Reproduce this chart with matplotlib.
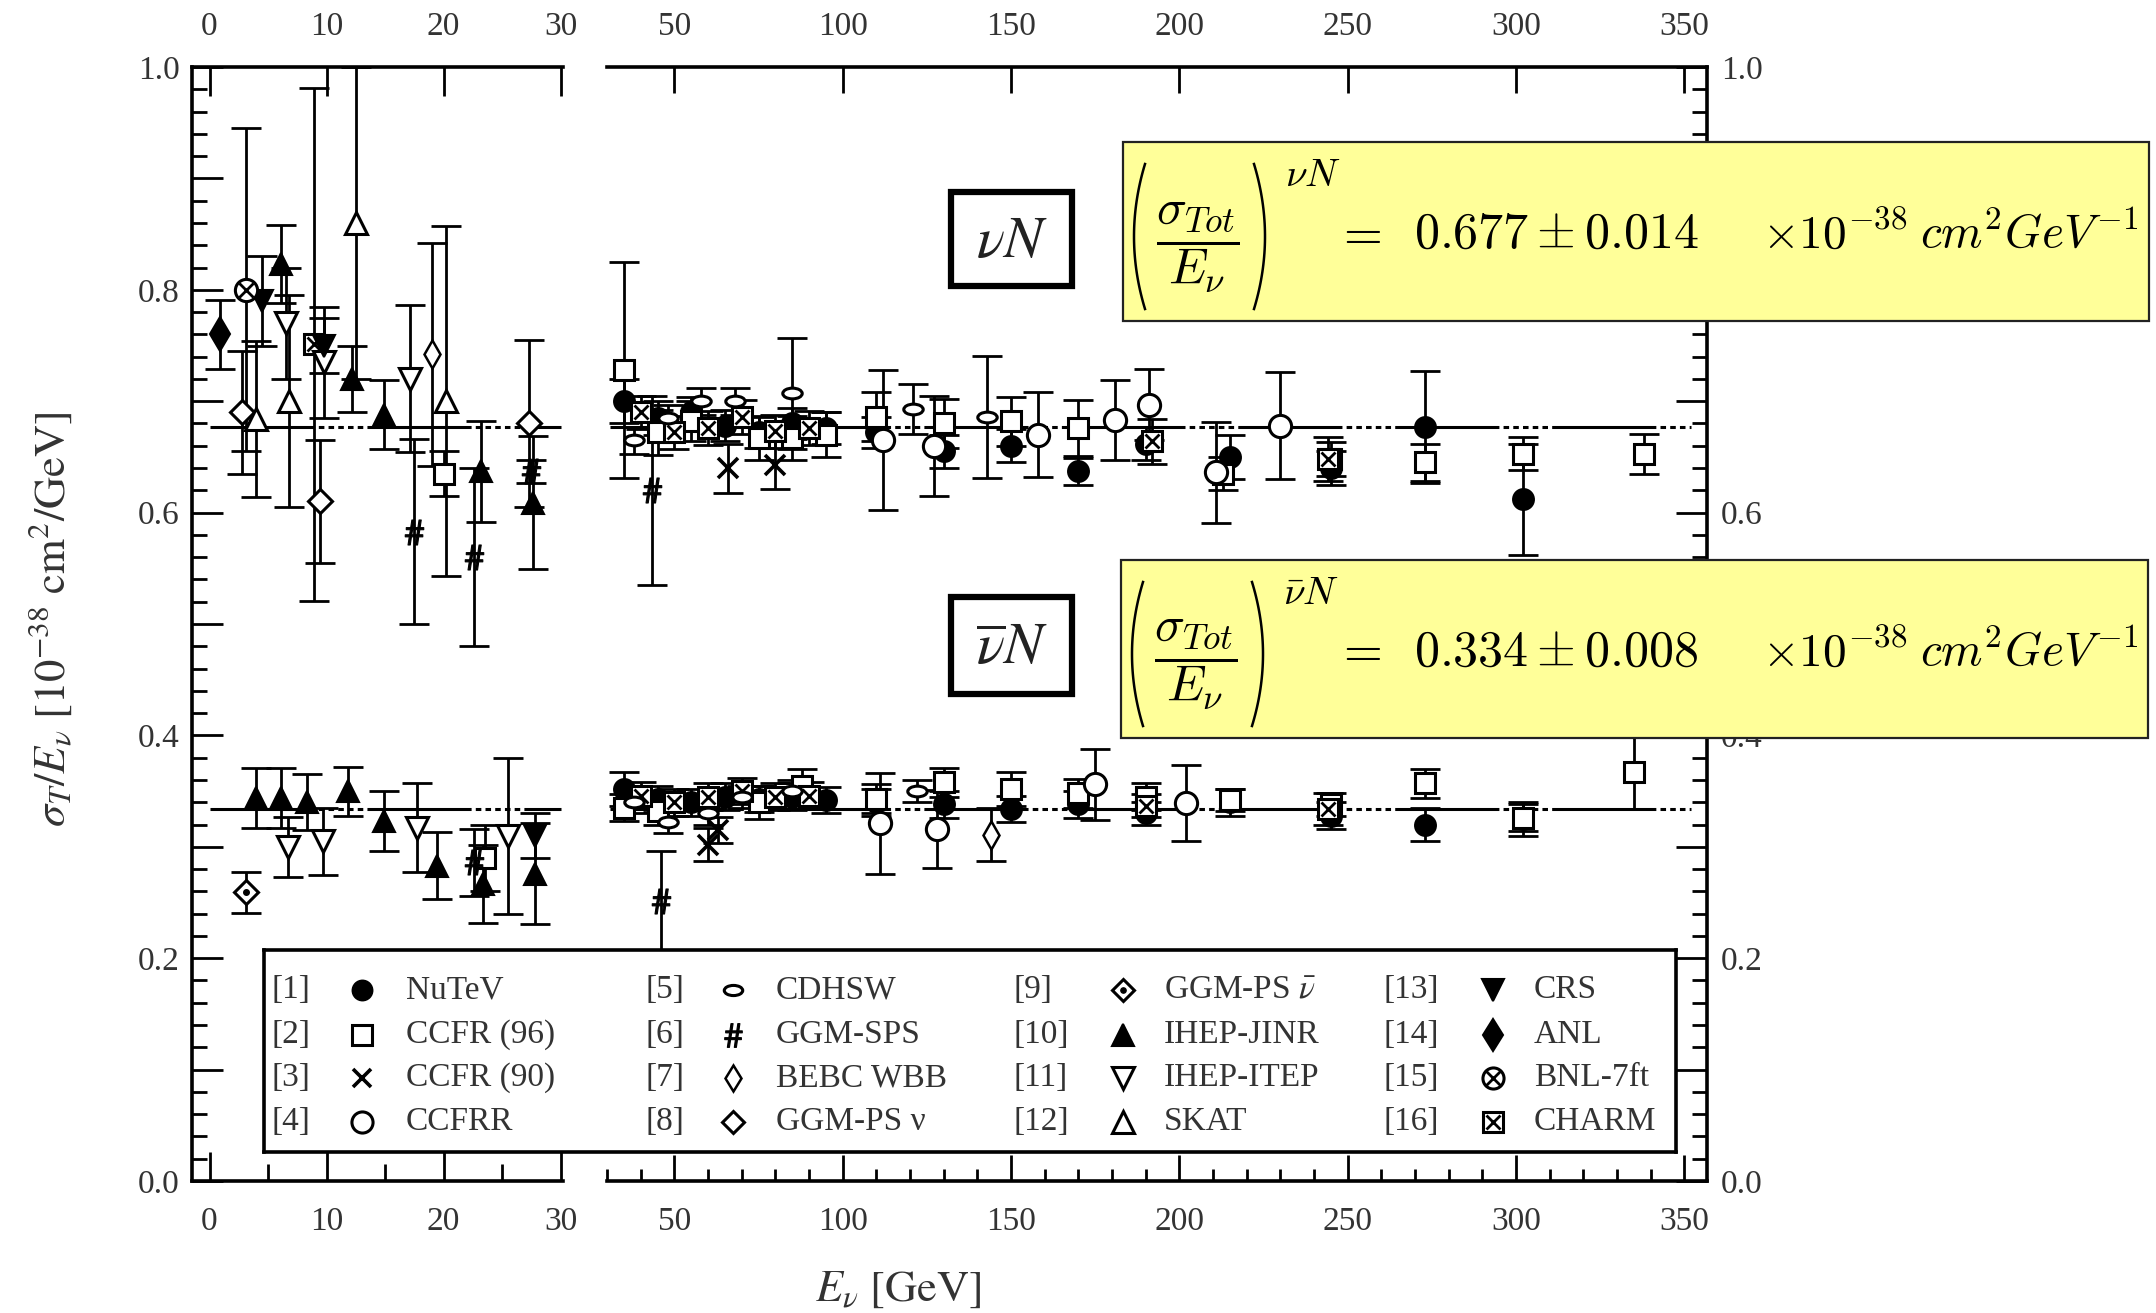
import numpy as np
import matplotlib
matplotlib.use("Agg")
import matplotlib.pyplot as plt
from matplotlib.patches import Rectangle
from matplotlib.lines import Line2D
from matplotlib.path import Path
from matplotlib.ticker import MultipleLocator, FuncFormatter

plt.rcParams["font.family"] = ["Liberation Serif", "DejaVu Serif"]
plt.rcParams["mathtext.fontset"] = "stix"
plt.rcParams["lines.scale_dashes"] = False

# fitted averages (10^-38 cm^2/GeV)
nu_fit, nu_fit_err = 0.677, 0.014
nubar_fit, nubar_fit_err = 0.334, 0.008

# ---- data: energy [GeV], sigma/E, error ----
# [1] NuTeV
nutev_x = [35, 45, 55, 65, 75, 85, 95, 110, 130, 150, 170, 190, 215, 245, 273, 302]
nutev_nu = [0.700, 0.685, 0.690, 0.678, 0.672, 0.680, 0.676, 0.672, 0.655, 0.660,
            0.637, 0.662, 0.650, 0.640, 0.677, 0.612]
nutev_nu_err = [0.020, 0.015, 0.014, 0.014, 0.014, 0.014, 0.014, 0.014, 0.015, 0.015,
                0.012, 0.015, 0.020, 0.015, 0.050, 0.050]
nutev_nubar = [0.352, 0.343, 0.340, 0.345, 0.343, 0.345, 0.342, 0.340, 0.338, 0.334,
               0.338, 0.330, 0.340, 0.328, 0.320, 0.325]
nutev_nubar_err = [0.015, 0.012, 0.012, 0.012, 0.012, 0.012, 0.012, 0.012, 0.012, 0.012,
                   0.012, 0.010, 0.012, 0.012, 0.015, 0.015]

# [2] CCFR (96)
ccfr96_nu_x = [20, 35, 45, 55, 75, 85, 95, 110, 130, 150, 170, 213, 245, 273, 302, 338]
ccfr96_nu = [0.635, 0.728, 0.672, 0.682, 0.667, 0.667, 0.670, 0.686, 0.680, 0.682,
             0.676, 0.635, 0.648, 0.645, 0.653, 0.653]
ccfr96_nu_err = [0.020, 0.097, 0.020, 0.018, 0.020, 0.020, 0.020, 0.022, 0.022, 0.022,
                 0.025, 0.015, 0.015, 0.017, 0.015, 0.018]
ccfr96_nubar_x = [23.5, 35, 45, 75, 88, 110, 130, 150, 170, 190, 215, 245, 273, 302, 335]
ccfr96_nubar = [0.290, 0.335, 0.332, 0.340, 0.355, 0.343, 0.358, 0.352, 0.348, 0.345,
                0.342, 0.338, 0.357, 0.326, 0.367]
ccfr96_nubar_err = [0.030, 0.012, 0.012, 0.015, 0.015, 0.013, 0.013, 0.015, 0.013, 0.012,
                    0.010, 0.010, 0.013, 0.012, 0.033]

# [3] CCFR (90)
ccfr90_nu_x = [66, 80]
ccfr90_nu = [0.640, 0.643]
ccfr90_nu_err = [0.022, 0.022]
ccfr90_nubar_x = [60, 63]
ccfr90_nubar = [0.302, 0.315]
ccfr90_nubar_err = [0.015, 0.012]

# [4] CCFRR
ccfrr_nu_x = [112, 127, 158, 181, 191, 211, 230]
ccfrr_nu = [0.665, 0.660, 0.670, 0.683, 0.697, 0.636, 0.678]
ccfrr_nu_err = [0.063, 0.045, 0.038, 0.036, 0.032, 0.045, 0.048]
ccfrr_nubar_x = [111, 128, 175, 202]
ccfrr_nubar = [0.321, 0.316, 0.356, 0.339]
ccfrr_nubar_err = [0.045, 0.035, 0.032, 0.034]

# [5] CDHSW
cdhsw_nu_x = [38, 48, 58, 68, 85, 121, 143]
cdhsw_nu = [0.665, 0.685, 0.700, 0.700, 0.707, 0.693, 0.686]
cdhsw_nu_err = [0.012, 0.012, 0.012, 0.012, 0.050, 0.022, 0.055]
cdhsw_nubar_x = [38, 48, 60, 70, 85, 122]
cdhsw_nubar = [0.340, 0.322, 0.330, 0.345, 0.350, 0.350]
cdhsw_nubar_err = [0.010, 0.010, 0.010, 0.010, 0.010, 0.010]

# [6] GGM-SPS
ggmsps_nu_x = [17.5, 22.6, 27.5, 43.5]
ggmsps_nu = [0.583, 0.560, 0.637, 0.620]
ggmsps_nu_err = [0.083, 0.080, 0.010, 0.085]
ggmsps_nubar_x = [22.6, 46]
ggmsps_nubar = [0.286, 0.251]
ggmsps_nubar_err = [0.030, 0.045]

# [7] BEBC WBB
bebc_nu_x = [19.0]
bebc_nu = [0.742]
bebc_nu_err = [0.100]
bebc_nubar_x = [144]
bebc_nubar = [0.311]
bebc_nubar_err = [0.024]

# [8] GGM-PS nu
ggmps_nu_x = [2.8, 9.4, 27.3]
ggmps_nu = [0.690, 0.610, 0.680]
ggmps_nu_err = [0.055, 0.055, 0.075]

# [9] GGM-PS nubar
ggmps_nubar_x = [3.1]
ggmps_nubar = [0.259]
ggmps_nubar_err = [0.018]

# [10] IHEP-JINR
jinr_nu_x = [6.1, 12.2, 14.9, 23.2, 27.6]
jinr_nu = [0.823, 0.720, 0.688, 0.637, 0.609]
jinr_nu_err = [0.035, 0.030, 0.031, 0.045, 0.060]
jinr_nubar_x = [4.0, 6.1, 8.3, 11.8, 14.9, 19.4, 23.4, 27.8]
jinr_nubar = [0.344, 0.344, 0.340, 0.350, 0.323, 0.283, 0.267, 0.276]
jinr_nubar_err = [0.027, 0.027, 0.025, 0.022, 0.027, 0.030, 0.035, 0.045]

# [11] IHEP-ITEP
itep_nu_x = [6.5, 9.8, 17.1]
itep_nu = [0.770, 0.735, 0.720]
itep_nu_err = [0.050, 0.050, 0.066]
itep_nubar_x = [6.7, 9.7, 17.7, 25.5]
itep_nubar = [0.300, 0.305, 0.317, 0.310]
itep_nubar_err = [0.027, 0.030, 0.040, 0.070]

# [12] SKAT
skat_nu_x = [4.0, 6.8, 12.5, 20.2]
skat_nu = [0.684, 0.700, 0.860, 0.700]
skat_nu_err = [0.070, 0.095, 0.140, 0.157]

# [13] CRS
crs_nu_x = [4.5, 9.8]
crs_nu = [0.790, 0.750]
crs_nu_err = [0.040, 0.025]
crs_nubar_x = [27.8]
crs_nubar = [0.310]
crs_nubar_err = [0.020]

# [14] ANL
anl_nu_x = [0.85]
anl_nu = [0.760]
anl_nu_err = [0.031]

# [15] BNL-7ft
bnl_nu_x = [3.1]
bnl_nu = [0.800]
bnl_nu_err = [0.145]

# [16] CHARM
charm_nu_x = [8.9, 40, 50, 60, 70, 80, 90, 192, 244]
charm_nu = [0.751, 0.690, 0.672, 0.676, 0.686, 0.673, 0.676, 0.664, 0.648]
charm_nu_err = [0.230, 0.015, 0.015, 0.015, 0.015, 0.015, 0.015, 0.020, 0.020]
charm_nubar_x = [40, 50, 60, 70, 80, 90, 190, 244]
charm_nubar = [0.346, 0.340, 0.345, 0.350, 0.345, 0.346, 0.337, 0.334]
charm_nubar_err = [0.012, 0.012, 0.012, 0.012, 0.012, 0.012, 0.010, 0.014]

legend_refs = ["[1]", "[2]", "[3]", "[4]", "[5]", "[6]", "[7]", "[8]",
               "[9]", "[10]", "[11]", "[12]", "[13]", "[14]", "[15]", "[16]"]
legend_names = ["NuTeV", "CCFR (96)", "CCFR (90)", "CCFRR",
                "CDHSW", "GGM-SPS", "BEBC WBB", "GGM-PS ν",
                r"GGM-PS $\bar{\nu}$", "IHEP-JINR", "IHEP-ITEP", "SKAT",
                "CRS", "ANL", "BNL-7ft", "CHARM"]

# ---- marker styles ----
circ = Path.unit_circle()
ellipse = Path(circ.vertices * np.array([1.0, 0.55]), circ.codes)
K = "black"
OPEN = dict(mfc="white", mec=K, mew=2.2)
FILL = dict(mfc=K, mec=K, mew=1.5)

styles = [
    [dict(marker="o", ms=15, **FILL)],
    [dict(marker="s", ms=15, **OPEN)],
    [dict(marker="x", ms=14, mec=K, mew=2.6)],
    [dict(marker="o", ms=16, **OPEN)],
    [dict(marker=ellipse, ms=14, **OPEN)],
    [dict(marker=r"$\#$", ms=18, mec=K, mfc=K, mew=0.8)],
    [dict(marker="d", ms=14, mfc="white", mec=K, mew=1.8)],
    [dict(marker="D", ms=12, **OPEN)],
    [dict(marker="D", ms=12, **OPEN), dict(marker="o", ms=4, mfc=K, mec=K)],
    [dict(marker="^", ms=16, **FILL)],
    [dict(marker="v", ms=16, **OPEN)],
    [dict(marker="^", ms=16, **OPEN)],
    [dict(marker="v", ms=16, **FILL)],
    [dict(marker="d", ms=17, **FILL)],
    [dict(marker="o", ms=16, **OPEN), dict(marker="x", ms=10, mec=K, mew=2.0)],
    [dict(marker="s", ms=15, **OPEN), dict(marker="x", ms=10, mec=K, mew=2.0)],
]

W, H = 2156, 1313
fig = plt.figure(figsize=(W / 100, H / 100), dpi=100)


def fx(px):
    return px / W


def fy(py):
    return 1 - py / H


ax_l = fig.add_axes([fx(192), fy(1181), (563 - 192) / W, (1181 - 67) / H])
ax_r = fig.add_axes([fx(607), fy(1181), (1707 - 607) / W, (1181 - 67) / H])


def draw(x, y, err, style):
    x, y, err = np.asarray(x, float), np.asarray(y), np.asarray(err)
    for ax, sel in ((ax_l, x <= 30.5), (ax_r, x > 30.5)):
        if not sel.any():
            continue
        ax.errorbar(x[sel], y[sel], yerr=err[sel], fmt="none", ecolor=K,
                    elinewidth=2.0, capsize=11, capthick=2.0, zorder=3)
        for m in style:
            ax.plot(x[sel], y[sel], linestyle="none", zorder=4, **m)


# fit lines
fit_ls = (0, (75, 3, 4, 3, 4, 3, 4, 3, 4, 3, 4, 3))
for val in (nu_fit, nubar_fit):
    ax_l.plot([0, 30], [val, val], color=K, lw=2.2, ls=fit_ls, zorder=2)
    ax_r.plot([31, 352], [val, val], color=K, lw=2.2, ls=fit_ls, zorder=2)

draw(nutev_x, nutev_nu, nutev_nu_err, styles[0])
draw(nutev_x, nutev_nubar, nutev_nubar_err, styles[0])
draw(ccfr96_nu_x, ccfr96_nu, ccfr96_nu_err, styles[1])
draw(ccfr96_nubar_x, ccfr96_nubar, ccfr96_nubar_err, styles[1])
draw(ccfr90_nu_x, ccfr90_nu, ccfr90_nu_err, styles[2])
draw(ccfr90_nubar_x, ccfr90_nubar, ccfr90_nubar_err, styles[2])
draw(charm_nu_x, charm_nu, charm_nu_err, styles[15])
draw(charm_nubar_x, charm_nubar, charm_nubar_err, styles[15])
draw(ccfrr_nu_x, ccfrr_nu, ccfrr_nu_err, styles[3])
draw(ccfrr_nubar_x, ccfrr_nubar, ccfrr_nubar_err, styles[3])
draw(cdhsw_nu_x, cdhsw_nu, cdhsw_nu_err, styles[4])
draw(cdhsw_nubar_x, cdhsw_nubar, cdhsw_nubar_err, styles[4])
draw(ggmsps_nu_x, ggmsps_nu, ggmsps_nu_err, styles[5])
draw(ggmsps_nubar_x, ggmsps_nubar, ggmsps_nubar_err, styles[5])
draw(bebc_nu_x, bebc_nu, bebc_nu_err, styles[6])
draw(bebc_nubar_x, bebc_nubar, bebc_nubar_err, styles[6])
draw(ggmps_nu_x, ggmps_nu, ggmps_nu_err, styles[7])
draw(ggmps_nubar_x, ggmps_nubar, ggmps_nubar_err, styles[8])
draw(jinr_nu_x, jinr_nu, jinr_nu_err, styles[9])
draw(jinr_nubar_x, jinr_nubar, jinr_nubar_err, styles[9])
draw(itep_nu_x, itep_nu, itep_nu_err, styles[10])
draw(itep_nubar_x, itep_nubar, itep_nubar_err, styles[10])
draw(skat_nu_x, skat_nu, skat_nu_err, styles[11])
draw(crs_nu_x, crs_nu, crs_nu_err, styles[12])
draw(crs_nubar_x, crs_nubar, crs_nubar_err, styles[12])
draw(anl_nu_x, anl_nu, anl_nu_err, styles[13])
draw(bnl_nu_x, bnl_nu, bnl_nu_err, styles[14])

# ---- axes cosmetics ----
def fmt_y(v, pos):
    return f"{v:.1f}" if abs(round(v / 0.2) * 0.2 - v) < 1e-6 else ""


TXT = "#333333"
ax_l.set_xlim(-1.5, 30.2)
ax_r.set_xlim(30, 356.7)
for ax in (ax_l, ax_r):
    ax.set_ylim(0, 1.0)
    ax.yaxis.set_major_locator(MultipleLocator(0.1))
    ax.yaxis.set_minor_locator(MultipleLocator(0.02))
    ax.yaxis.set_major_formatter(FuncFormatter(fmt_y))
    for s in ax.spines.values():
        s.set_linewidth(2.6)
    ax.tick_params(which="both", direction="in", width=2.0, labelcolor=TXT,
                   labelsize=24)
    ax.tick_params(axis="x", top=True, bottom=True, labeltop=True,
                   labelbottom=True, pad=18)

ax_l.spines["right"].set_visible(False)
ax_r.spines["left"].set_visible(False)

ax_l.xaxis.set_major_locator(MultipleLocator(10))
ax_l.xaxis.set_minor_locator(MultipleLocator(5))
ax_l.tick_params(axis="x", which="major", length=21)
ax_l.tick_params(axis="x", which="minor", length=12)
ax_l.tick_params(axis="y", left=True, right=False, pad=9)
ax_l.tick_params(axis="y", which="major", length=22)
ax_l.tick_params(axis="y", which="minor", length=11)

ax_r.xaxis.set_major_locator(MultipleLocator(50))
ax_r.xaxis.set_minor_locator(MultipleLocator(10))
ax_r.tick_params(axis="x", which="major", length=19)
ax_r.tick_params(axis="x", which="minor", length=9)
ax_r.tick_params(axis="y", which="both", left=False, right=True,
                 labelleft=False, labelright=True, pad=10)
ax_r.tick_params(axis="y", which="major", length=22)
ax_r.tick_params(axis="y", which="minor", length=11)

fig.text(fx(50), fy(619), r"$\sigma_T/E_\nu\ [10^{-38}\ \mathrm{cm}^2/\mathrm{GeV}]$",
         rotation=90, ha="center", va="center", fontsize=32, color=TXT)
fig.text(fx(898), fy(1290), r"$E_\nu\ [\mathrm{GeV}]$", ha="center", va="center",
         fontsize=32, color=TXT)

# ---- legend ----
LX0, LX1, LY0, LY1 = 264, 1676, 950, 1152
ax_leg = fig.add_axes([fx(LX0), fy(LY1), (LX1 - LX0) / W, (LY1 - LY0) / H], zorder=5)
ax_leg.set_xlim(LX0, LX1)
ax_leg.set_ylim(LY1, LY0)
ax_leg.set_xticks([])
ax_leg.set_yticks([])
for s in ax_leg.spines.values():
    s.set_linewidth(2.6)
col_ref = [272, 646, 1014, 1383]
col_mark = [362, 733, 1123, 1493]
col_name = [406, 776, 1164, 1534]
row_y = [990, 1035, 1078, 1122]
for i in range(16):
    c, r = i // 4, i % 4
    ax_leg.text(col_ref[c], row_y[r], legend_refs[i], ha="left", va="center",
                fontsize=24, color=TXT)
    for m in styles[i]:
        mm = dict(m)
        mm["ms"] = m["ms"] * 0.95
        ax_leg.plot([col_mark[c]], [row_y[r]], linestyle="none", **mm)
    ax_leg.text(col_name[c], row_y[r], legend_names[i], ha="left", va="center",
                fontsize=24, color=TXT)

# ---- labelled boxes ----
def label_box(x0, y0, x1, y1, text):
    fig.add_artist(Rectangle((fx(x0), fy(y1)), (x1 - x0) / W, (y1 - y0) / H,
                             transform=fig.transFigure, fc="white", ec=K, lw=4.5,
                             zorder=6))
    fig.text(fx((x0 + x1) / 2), fy((y0 + y1) / 2 + 4), text, ha="center", va="center",
             fontsize=42, zorder=7, color="#222222")


label_box(951, 192, 1072, 286, r"$\nu N$")
label_box(951, 597, 1072, 694, r"$\overline{\nu} N$")


def paren(x_mid, y_top, y_bot, side):
    # thin curved bracket, side=-1 for "(" and +1 for ")"
    t = np.linspace(-1, 1, 40)
    xs = x_mid - side * 11 * t ** 2
    ys = (y_top + y_bot) / 2 + t * (y_bot - y_top) / 2
    fig.add_artist(Line2D(fx(xs), fy(ys), transform=fig.transFigure, color=K,
                          lw=1.8, zorder=7))


def formula_box(x0, y0, x1, y1, sup, val, err):
    fig.add_artist(Rectangle((fx(x0), fy(y1)), (x1 - x0) / W, (y1 - y0) / H,
                             transform=fig.transFigure, fc="#ffff99", ec="#222222",
                             lw=1.6, zorder=6))
    ym = (y0 + y1) / 2
    yc = fy(ym + 4)
    kw = dict(va="center", zorder=7, color="black", math_fontfamily="cm")
    paren(x0 + 11, y0 + 22, y1 - 12, -1)
    paren(x0 + 142, y0 + 22, y1 - 12, +1)
    fig.text(fx(x0 + 75), fy(ym + 16), r"$\dfrac{\sigma_{Tot}}{E_{\nu}}$",
             ha="center", fontsize=36, **kw)
    fig.text(fx(x0 + 162), fy(y0 + 34), r"$" + sup + r"$", ha="left", fontsize=28, **kw)
    fig.text(fx(1358), yc, r"$=$", ha="center", fontsize=36, **kw)
    fig.text(fx(1414), yc, rf"$\mathrm{{{val:.3f}}}\pm \mathrm{{{err:.3f}}}$",
             ha="left", fontsize=36, **kw)
    fig.text(fx(1762), yc, r"$\times\mathrm{10}^{-38}$", ha="left", fontsize=34, **kw)
    fig.text(fx(1920), yc, r"$cm^{2}GeV^{-1}$", ha="left", fontsize=34, **kw)


formula_box(1123, 142, 2149, 321, r"\nu N", nu_fit, nu_fit_err)
formula_box(1121, 560, 2148, 738, r"\bar{\nu} N", nubar_fit, nubar_fit_err)

fig.savefig("out.png", dpi=100, facecolor="white")
